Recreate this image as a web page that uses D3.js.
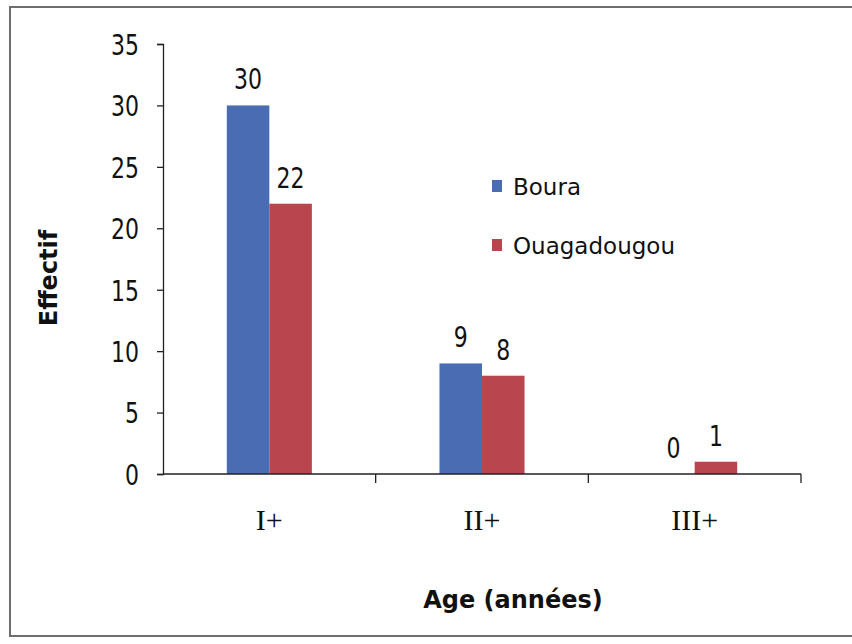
<!DOCTYPE html>
<html>
<head>
<meta charset="utf-8">
<script src="https://cdn.jsdelivr.net/npm/d3@7"></script>
<style>
  html, body { margin: 0; padding: 0; background: #ffffff; }
  svg { display: block; }
</style>
</head>
<body>
<svg id="chart" width="852" height="644"></svg>
<script>
// Age classes and counts per site
const categories = ["I+", "II+", "III+"];
const seriesNames = ["Boura", "Ouagadougou"];
const bouraValues = [30, 9, 0];
const ouagaValues = [22, 8, 1];
const yTicks = [0, 5, 10, 15, 20, 25, 30, 35];
const colors = ["#4a6cb3", "#b9464f"];

const values = [bouraValues, ouagaValues];
const rows = categories.map((c, i) => ({
  cat: c,
  vals: seriesNames.map((s, k) => ({ series: s, k, value: values[k][i] }))
}));

const svg = d3.select("#chart");
const plot = { left: 163, right: 801, top: 44, bottom: 474 };

// outer frame
svg.append("rect")
  .attr("x", 10).attr("y", 7)
  .attr("width", 852).attr("height", 629)
  .attr("fill", "#ffffff")
  .attr("stroke", "#6e6e6e").attr("stroke-width", 2);

const y = d3.scaleLinear().domain([0, 35]).range([plot.bottom, plot.top]);
const x0 = d3.scaleBand().domain(categories).range([plot.left, plot.right]).padding(0);
const bw = x0.bandwidth();
const x1 = d3.scaleBand().domain(seriesNames).range([bw * 0.3, bw * 0.7]).padding(0);

// bars
const groups = svg.append("g").selectAll("g")
  .data(rows).join("g")
  .attr("transform", d => `translate(${x0(d.cat)},0)`);

groups.selectAll("rect")
  .data(d => d.vals).join("rect")
  .attr("x", d => x1(d.series))
  .attr("y", d => y(d.value))
  .attr("width", x1.bandwidth())
  .attr("height", d => y(0) - y(d.value))
  .attr("fill", d => colors[d.k]);

// value labels above bars (tall, narrow digits)
groups.selectAll("text")
  .data(d => d.vals).join("text")
  .attr("transform", d => `translate(${x1(d.series) + x1.bandwidth() / 2},${y(d.value) - 16}) scale(1,1.3)`)
  .attr("text-anchor", "middle")
  .attr("font-family", "DejaVu Sans, sans-serif")
  .attr("font-size", 22)
  .attr("fill", "#111")
  .text(d => d.value);

// y axis
const yAxis = svg.append("g")
  .attr("transform", `translate(${plot.left},0)`)
  .call(d3.axisLeft(y).tickValues(yTicks).tickSize(6).tickPadding(18));
yAxis.select(".domain").attr("stroke", "#222").attr("stroke-width", 1.3);
yAxis.selectAll(".tick line").attr("stroke", "#222").attr("stroke-width", 1.3);
yAxis.selectAll(".tick text")
  .attr("font-family", "DejaVu Sans, sans-serif")
  .attr("font-size", 22)
  .attr("fill", "#111")
  .attr("dy", "0.36em")
  .attr("transform", "scale(1,1.3)");

// x axis: baseline, ticks at category boundaries, labels at band centres
const xAxis = svg.append("g").attr("transform", `translate(0,${plot.bottom})`);
xAxis.append("line")
  .attr("x1", plot.left).attr("x2", plot.right)
  .attr("stroke", "#222").attr("stroke-width", 1.3);
xAxis.selectAll(".bound")
  .data(categories).join("line")
  .attr("class", "bound")
  .attr("x1", d => x0(d) + bw).attr("x2", d => x0(d) + bw)
  .attr("y1", 0).attr("y2", 9)
  .attr("stroke", "#222").attr("stroke-width", 1.3);
xAxis.selectAll(".cat")
  .data(categories).join("text")
  .attr("class", "cat")
  .attr("x", d => x0(d) + bw / 2)
  .attr("y", 56)
  .attr("text-anchor", "middle")
  .attr("font-family", "Liberation Serif, serif")
  .attr("font-size", 30)
  .attr("fill", "#111")
  .text(d => d);

// axis titles
svg.append("text")
  .attr("transform", "translate(57,278) rotate(-90)")
  .attr("text-anchor", "middle")
  .attr("font-family", "DejaVu Sans, sans-serif")
  .attr("font-weight", "bold")
  .attr("font-size", 24)
  .attr("fill", "#111")
  .text("Effectif");

svg.append("text")
  .attr("x", 513).attr("y", 608)
  .attr("text-anchor", "middle")
  .attr("font-family", "DejaVu Sans, sans-serif")
  .attr("font-weight", "bold")
  .attr("font-size", 24)
  .attr("fill", "#111")
  .text("Age (années)");

// legend
const legend = svg.append("g").attr("transform", "translate(492,180)");
const items = legend.selectAll("g")
  .data(seriesNames).join("g")
  .attr("transform", (d, i) => `translate(0,${i * 59})`);
items.append("rect")
  .attr("width", 10).attr("height", 12)
  .attr("fill", (d, i) => colors[i]);
items.append("text")
  .attr("x", 21).attr("y", 15)
  .attr("font-family", "DejaVu Sans, sans-serif")
  .attr("font-size", 23)
  .attr("fill", "#111")
  .text(d => d);
</script>
</body>
</html>
